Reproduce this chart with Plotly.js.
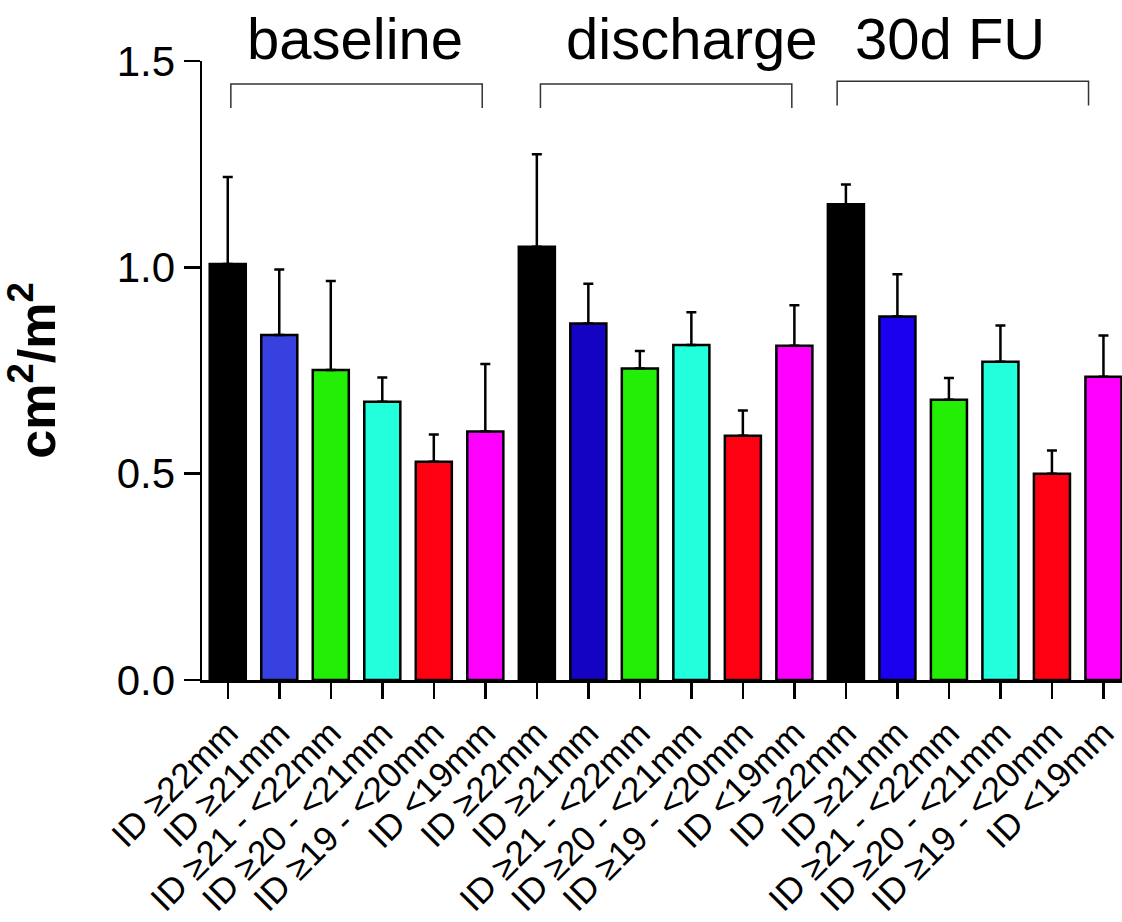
<!DOCTYPE html>
<html>
<head>
<meta charset="utf-8">
<script src="https://cdn.plot.ly/plotly-3.0.1.min.js"></script>
<style>html,body{margin:0;padding:0;background:#fff;}#chart{width:1122px;height:922px;}</style>
</head>
<body>
<div id="chart"></div>
<script>
// ---- data ----
const groups = ['baseline', 'discharge', '30d FU'];
const categories = ['ID ≥22mm', 'ID ≥21mm', 'ID ≥21 - <22mm', 'ID ≥20 - <21mm', 'ID ≥19 - <20mm', 'ID <19mm'];
const baselineMean = [1.008, 0.836, 0.751, 0.674, 0.529, 0.602];
const baselineUpper = [1.219, 0.995, 0.967, 0.733, 0.595, 0.766];
const dischargeMean = [1.050, 0.864, 0.755, 0.812, 0.592, 0.810];
const dischargeUpper = [1.274, 0.960, 0.797, 0.891, 0.653, 0.908];
const fuMean = [1.153, 0.881, 0.679, 0.771, 0.500, 0.735];
const fuUpper = [1.201, 0.983, 0.732, 0.859, 0.556, 0.835];
const baselineColors = ['#000000', '#3741E0', '#22EE06', '#22FFDD', '#FF0012', '#FF00FF'];
const dischargeColors = ['#000000', '#1403C2', '#22EE06', '#22FFDD', '#FF0012', '#FF00FF'];
const fuColors = ['#000000', '#1A00EE', '#22EE06', '#22FFDD', '#FF0012', '#FF00FF'];
const yTickVals = [0, 0.5, 1.0, 1.5];
const yTickText = ['0.0', '0.5', '1.0', '1.5'];

// ---- build ----
const means = [baselineMean, dischargeMean, fuMean];
const uppers = [baselineUpper, dischargeUpper, fuUpper];
const colorSets = [baselineColors, dischargeColors, fuColors];
const n = categories.length;
const FONT = 'Liberation Sans, Arial, sans-serif';

const traces = groups.map((g, gi) => {
  const xs = categories.map((c, i) => gi * n + i);
  return {
    type: 'bar',
    name: g,
    x: xs,
    y: means[gi],
    width: 0.7,
    marker: { color: colorSets[gi], line: { color: '#000', width: 2.5 } },
    error_y: {
      type: 'data', symmetric: false,
      array: uppers[gi].map((u, i) => u - means[gi][i]),
      arrayminus: means[gi].map(() => 0),
      color: '#000', thickness: 2.5, width: 5
    },
    hoverinfo: 'none'
  };
});

const tickVals = [];
const tickText = [];
groups.forEach((g, gi) => categories.forEach((c, i) => { tickVals.push(gi * n + i); tickText.push(c); }));

// bracket positions (data units along x) and titles
const bracketStart = [0.06, 6.07, 11.83];
const bracketEnd = [4.94, 10.95, 16.71];
const bracketTop = [1.444, 1.444, 1.451];
const bracketBottom = [1.386, 1.386, 1.392];
const titleX = [2.47, 9.01, 14.02];

const shapes = groups.map((g, gi) => ({
  type: 'path', xref: 'x', yref: 'y',
  path: `M ${bracketStart[gi]} ${bracketBottom[gi]} L ${bracketStart[gi]} ${bracketTop[gi]} L ${bracketEnd[gi]} ${bracketTop[gi]} L ${bracketEnd[gi]} ${bracketBottom[gi]}`,
  line: { color: '#333', width: 1.5 }
}));

const annotations = groups.map((g, gi) => ({
  text: g, xref: 'x', yref: 'paper', x: titleX[gi], y: 1.037,
  xanchor: 'center', yanchor: 'middle', showarrow: false,
  font: { family: FONT, size: 58, color: '#000' }
}));

const layout = {
  width: 1122, height: 922,
  margin: { l: 202, r: 0, t: 61, b: 242 },
  paper_bgcolor: '#fff', plot_bgcolor: '#fff',
  showlegend: false,
  bargap: 0,
  font: { family: FONT, color: '#000' },
  xaxis: {
    range: [-0.5, 17.36],
    tickmode: 'array', tickvals: tickVals, ticktext: tickText,
    tickangle: -45,
    tickfont: { family: FONT, size: 35, color: '#000' },
    ticks: 'outside', ticklen: 16, tickwidth: 2.5, tickcolor: '#000',
    showline: true, linewidth: 2.5, linecolor: '#000',
    showgrid: false, zeroline: false, fixedrange: true
  },
  yaxis: {
    range: [0, 1.5],
    tickmode: 'array', tickvals: yTickVals, ticktext: yTickText,
    tickfont: { family: FONT, size: 42, color: '#000' },
    ticks: 'outside', ticklen: 16, tickwidth: 2.5, tickcolor: '#000',
    showline: true, linewidth: 2.5, linecolor: '#000',
    showgrid: false, zeroline: false, fixedrange: true,
    title: { text: 'cm<sup>2</sup>/m<sup>2</sup>', font: { family: FONT, size: 52, color: '#000', weight: 'bold' }, standoff: 48 }
  },
  shapes: shapes,
  annotations: annotations
};

Plotly.newPlot('chart', traces, layout, { displayModeBar: false, staticPlot: true });
</script>
</body>
</html>
